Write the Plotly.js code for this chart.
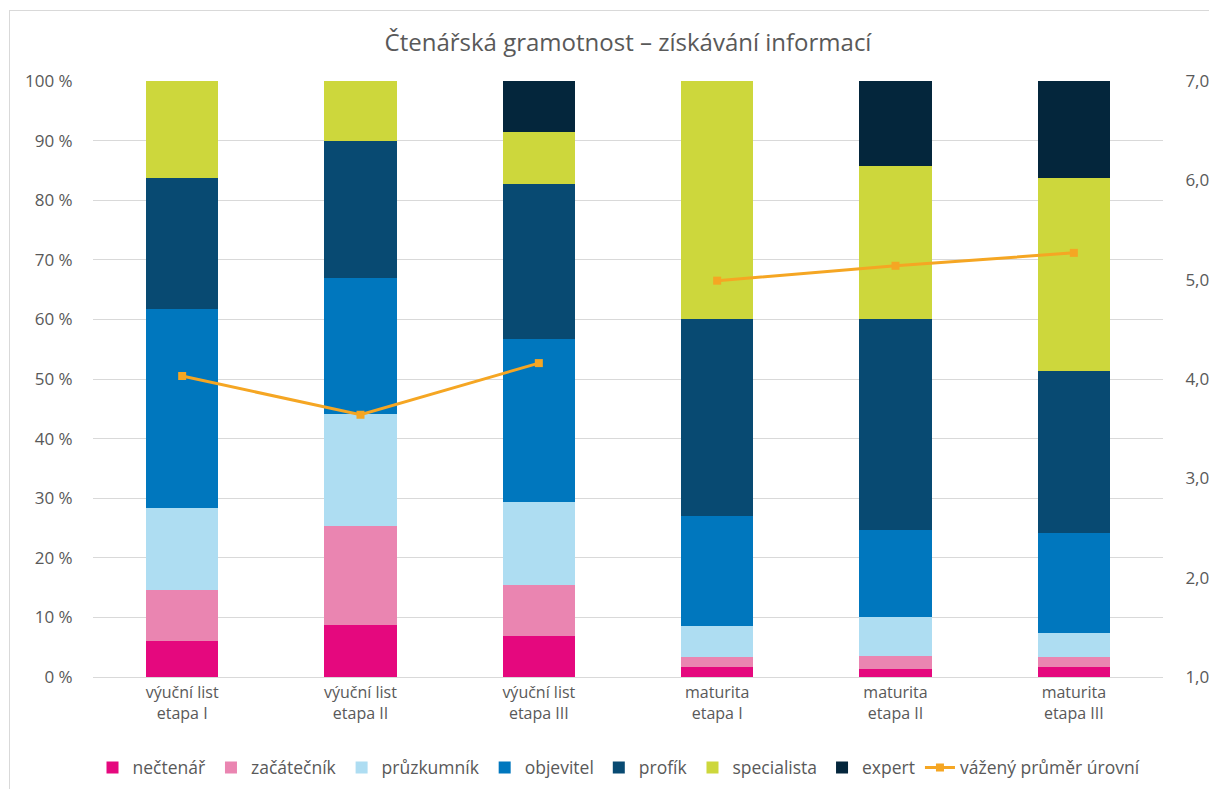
<!DOCTYPE html>
<html>
<head>
<meta charset="utf-8">
<script src="https://cdn.plot.ly/plotly-3.0.1.min.js"></script>
<style>
html,body{margin:0;padding:0;background:#fff;}
#frame{position:absolute;left:9px;top:10px;width:1260px;height:840px;border:1px solid #d9d9d9;box-sizing:border-box;pointer-events:none;z-index:5;}
#chart{position:absolute;left:0;top:0;width:1209px;height:789px;}
</style>
</head>
<body>
<div id="chart"></div>
<div id="frame"></div>
<script>
const categories = ["výuční list<br>etapa I","výuční list<br>etapa II","výuční list<br>etapa III","maturita<br>etapa I","maturita<br>etapa II","maturita<br>etapa III"];
const nectenar    = [6.1, 8.8, 6.8, 1.7, 1.4, 1.7];
const zacatecnik  = [8.5, 16.5, 8.7, 1.7, 2.2, 1.7];
const pruzkumnik  = [13.8, 18.9, 13.8, 5.2, 6.5, 3.9];
const objevitel   = [33.3, 22.7, 27.4, 18.4, 14.6, 16.9];
const profik      = [22.1, 23.0, 26.1, 33.0, 35.4, 27.2];
const specialista = [16.2, 10.1, 8.6, 40.0, 25.6, 32.4];
const expert      = [0, 0, 8.6, 0, 14.3, 16.2];
const vazenyPrumer = [4.03, 3.64, 4.16, 4.99, 5.14, 5.27];

const seriesNames = ["nečtenář","začátečník","průzkumník","objevitel","profík","specialista","expert"];
const seriesData = [nectenar, zacatecnik, pruzkumnik, objevitel, profik, specialista, expert];
const seriesColors = ["#E5087E","#EA85B1","#AEDDF2","#0077BE","#084A72","#CDD73C","#04263C"];

const traces = seriesNames.map((n,i)=>({
  type:'bar', name:n, x:categories, y:seriesData[i],
  marker:{color:seriesColors[i], line:{width:0}},
  hoverinfo:'name+y'
}));
// the line is drawn as two segments (výuční list / maturita groups)
const groups = [[0,3],[3,6]];
groups.forEach((g,k)=>{
  traces.push({
    type:'scatter', mode:'lines+markers', name:'vážený průměr úrovní',
    legendgroup:'prumer', showlegend:k===0,
    x:categories.slice(g[0],g[1]), y:vazenyPrumer.slice(g[0],g[1]), yaxis:'y2',
    line:{color:'#F5A623', width:3},
    marker:{symbol:'square', size:8, color:'#F5A623'}
  });
});

const fontFam = '"Open Sans", "Noto Sans", sans-serif';
const layout = {
  width:1209, height:789,
  margin:{l:93, r:46, t:81, b:112, pad:0, autoexpand:false},
  paper_bgcolor:'#fff', plot_bgcolor:'#fff',
  separators:', ',
  font:{family:fontFam, color:'#595959', size:15},
  title:{text:'Čtenářská gramotnost – získávání informací', x:0.5, xref:'paper', xanchor:'center', yref:'container', y:0.946, yanchor:'middle', font:{size:24, color:'#595959', family:fontFam}},
  barmode:'stack', bargap:0.595,
  showlegend:true,
  legend:{orientation:'h', xref:'container', x:0.512, xanchor:'center', yref:'container', y:0.027, yanchor:'middle', font:{size:17.5, color:'#595959'}, traceorder:'normal', itemwidth:30, tracegroupgap:0, itemclick:false},
  xaxis:{type:'category', showgrid:false, zeroline:false, showline:true, linecolor:'#d9d9d9', linewidth:1, ticks:'outside', ticklen:1, tickcolor:'rgba(0,0,0,0)', tickfont:{size:16, color:'#595959'}, fixedrange:true},
  yaxis:{range:[0,100], dtick:10, ticksuffix:' %', showgrid:true, gridcolor:'#d9d9d9', gridwidth:1, zeroline:false, showline:false, ticks:'outside', ticklen:16, tickcolor:'rgba(0,0,0,0)', tickfont:{size:17, color:'#595959'}, fixedrange:true},
  yaxis2:{overlaying:'y', side:'right', range:[1,7], dtick:1, tickformat:'.1f', showgrid:false, zeroline:false, showline:false, ticks:'outside', ticklen:18, tickcolor:'rgba(0,0,0,0)', tickfont:{size:17, color:'#595959'}, fixedrange:true}
};
Plotly.newPlot('chart', traces, layout, {displayModeBar:false});
</script>
</body>
</html>
